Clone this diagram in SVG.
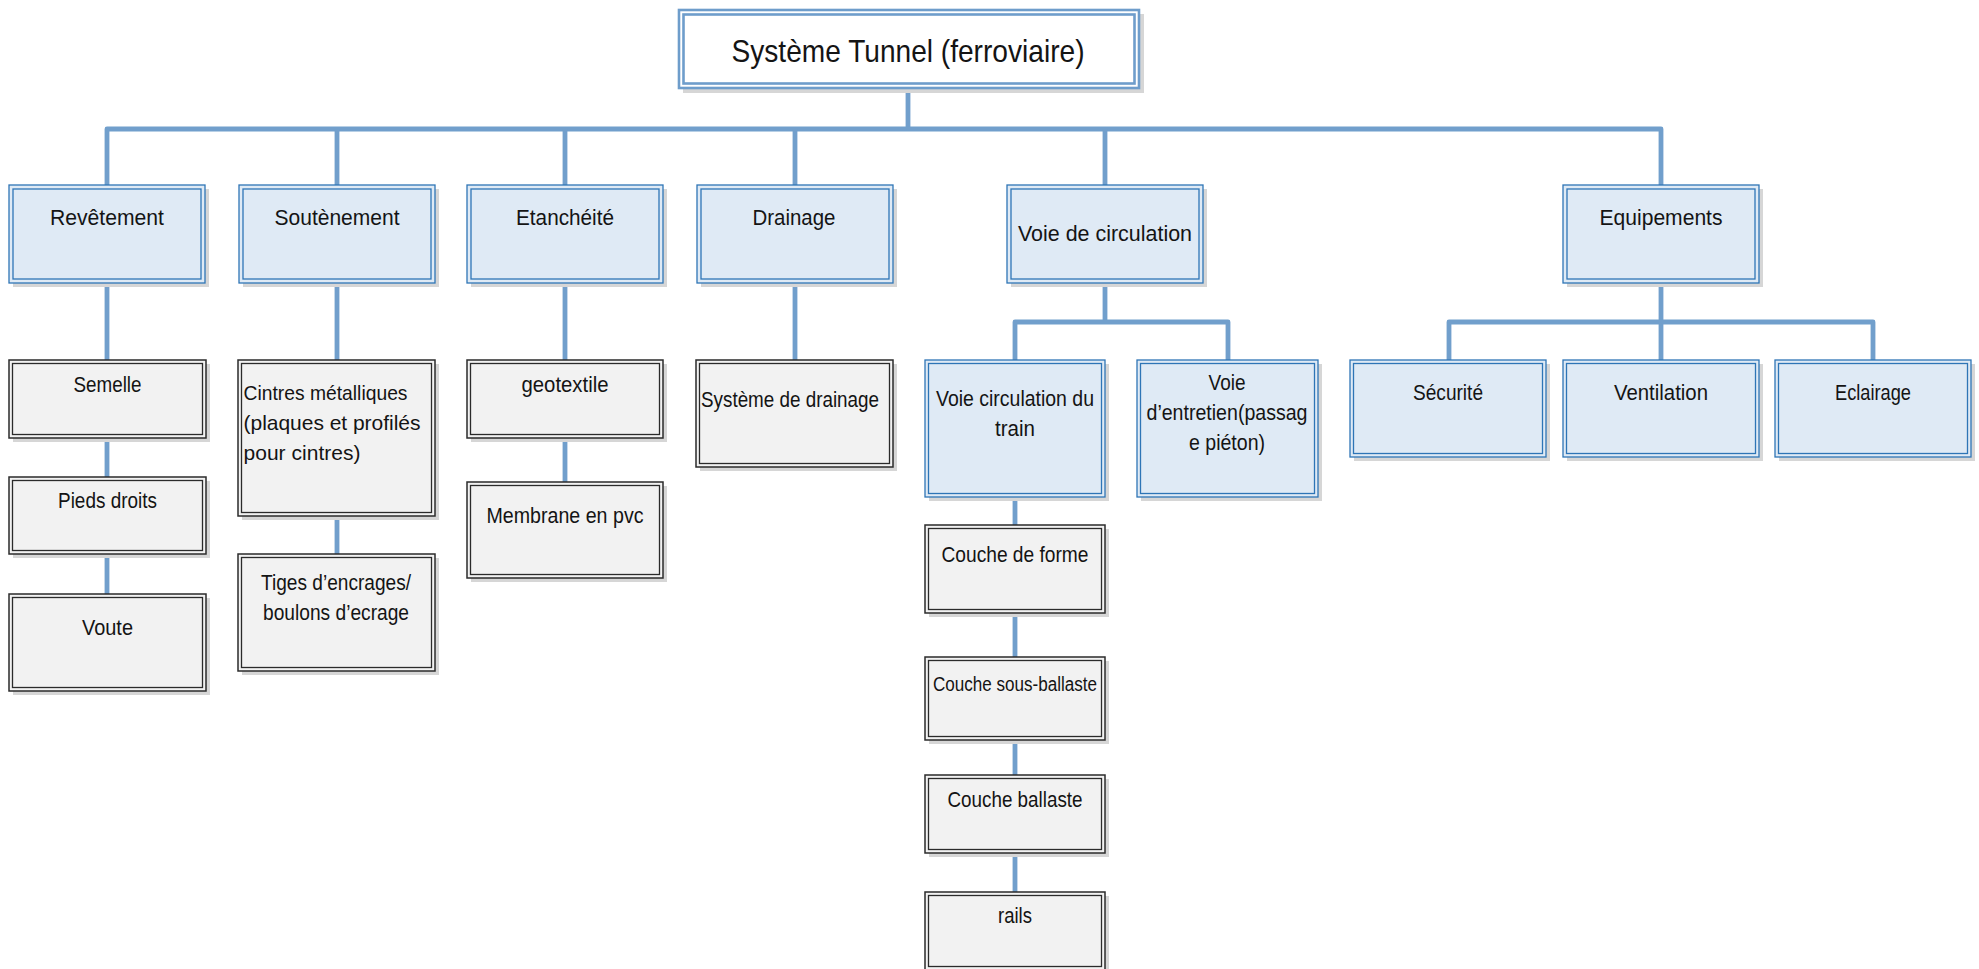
<svg xmlns="http://www.w3.org/2000/svg" width="1979" height="969" viewBox="0 0 1979 969">
<defs>
<style>
text{font-family:"Liberation Sans",Arial,sans-serif;fill:#141414;}
.t1{font-size:22px;text-anchor:middle;}
.t2{font-size:21.5px;text-anchor:middle;}
.tl{text-anchor:start;}
.sh{fill:#D6D6D6;}
.bo{fill:#DFEAF5;stroke:#2E75B6;stroke-width:1.3;}
.bi{fill:none;stroke:#2E75B6;stroke-width:1.3;}
.go{fill:#F2F2F2;stroke:#2B2B2B;stroke-width:1.5;}
.gi{fill:none;stroke:#2B2B2B;stroke-width:1.3;}
.ro{fill:#FFFFFF;stroke:#6E9DCB;stroke-width:2.6;}
.ri{fill:none;stroke:#6E9DCB;stroke-width:2.6;}
.cn{fill:none;stroke:#719FCC;stroke-width:4.8;stroke-linejoin:round;stroke-linecap:butt;}
</style>
</defs>
<rect width="1979" height="969" fill="#FFFFFF"/>

<g id="connectors">
<path class="cn" d="M908 89V129"/>
<path class="cn" d="M107 185V129H1661V185"/>
<path class="cn" d="M337 129V185M565 129V185M795 129V185M1105 129V185"/>
<path class="cn" d="M107 283V360M107 438V477M107 554V594"/>
<path class="cn" d="M337 283V360M337 516V554"/>
<path class="cn" d="M565 283V360M565 438V482"/>
<path class="cn" d="M795 283V360"/>
<path class="cn" d="M1105 283V322"/>
<path class="cn" d="M1015 360V322H1228V360"/>
<path class="cn" d="M1015 497V525M1015 613V657M1015 740V775M1015 853V892"/>
<path class="cn" d="M1661 283V322"/>
<path class="cn" d="M1449 360V322H1873V360M1661 322V360"/>
</g>

<g id="root">
<rect class="sh" x="683" y="14" width="461" height="79"/>
<rect class="ro" x="679" y="10" width="460" height="78"/>
<rect class="ri" x="683.5" y="14.5" width="451" height="69"/>
<text x="908" y="62" style="font-size:31.5px;text-anchor:middle" textLength="353" lengthAdjust="spacingAndGlyphs">Système Tunnel (ferroviaire)</text>
</g>

<g id="revetement">
<rect class="sh" x="13" y="189" width="196" height="98"/>
<rect class="bo" x="9" y="185" width="196" height="98"/>
<rect class="bi" x="13" y="189" width="188" height="90"/>
<text class="t1" x="107" y="225" textLength="114" lengthAdjust="spacingAndGlyphs">Revêtement</text>
</g>
<g id="soutenement">
<rect class="sh" x="243" y="189" width="196" height="98"/>
<rect class="bo" x="239" y="185" width="196" height="98"/>
<rect class="bi" x="243" y="189" width="188" height="90"/>
<text class="t1" x="337" y="225" textLength="125" lengthAdjust="spacingAndGlyphs">Soutènement</text>
</g>
<g id="etancheite">
<rect class="sh" x="471" y="189" width="196" height="98"/>
<rect class="bo" x="467" y="185" width="196" height="98"/>
<rect class="bi" x="471" y="189" width="188" height="90"/>
<text class="t1" x="565" y="225" textLength="98" lengthAdjust="spacingAndGlyphs">Etanchéité</text>
</g>
<g id="drainage">
<rect class="sh" x="701" y="189" width="196" height="98"/>
<rect class="bo" x="697" y="185" width="196" height="98"/>
<rect class="bi" x="701" y="189" width="188" height="90"/>
<text class="t1" x="794" y="225" textLength="83" lengthAdjust="spacingAndGlyphs">Drainage</text>
</g>
<g id="voie-circulation">
<rect class="sh" x="1011" y="189" width="196" height="98"/>
<rect class="bo" x="1007" y="185" width="196" height="98"/>
<rect class="bi" x="1011" y="189" width="188" height="90"/>
<text class="t1" x="1105" y="241" textLength="174" lengthAdjust="spacingAndGlyphs">Voie de circulation</text>
</g>
<g id="equipements">
<rect class="sh" x="1567" y="189" width="196" height="98"/>
<rect class="bo" x="1563" y="185" width="196" height="98"/>
<rect class="bi" x="1567" y="189" width="188" height="90"/>
<text class="t1" x="1661" y="225" textLength="123" lengthAdjust="spacingAndGlyphs">Equipements</text>
</g>

<g id="semelle">
<rect class="sh" x="13" y="364" width="197" height="78"/>
<rect class="go" x="9" y="360" width="197" height="78"/>
<rect class="gi" x="12.5" y="363.5" width="190" height="71"/>
<text class="t2" x="107.5" y="392" textLength="68" lengthAdjust="spacingAndGlyphs">Semelle</text>
</g>
<g id="pieds-droits">
<rect class="sh" x="13" y="481" width="197" height="77"/>
<rect class="go" x="9" y="477" width="197" height="77"/>
<rect class="gi" x="12.5" y="480.5" width="190" height="70"/>
<text class="t2" x="107.5" y="508" textLength="99" lengthAdjust="spacingAndGlyphs">Pieds droits</text>
</g>
<g id="voute">
<rect class="sh" x="13" y="598" width="197" height="97"/>
<rect class="go" x="9" y="594" width="197" height="97"/>
<rect class="gi" x="12.5" y="597.5" width="190" height="90"/>
<text class="t2" x="107.5" y="635" textLength="51" lengthAdjust="spacingAndGlyphs">Voute</text>
</g>
<g id="cintres">
<rect class="sh" x="242" y="364" width="197" height="156"/>
<rect class="go" x="238" y="360" width="197" height="156"/>
<rect class="gi" x="241.5" y="363.5" width="190" height="149"/>
<text x="243.5" y="400" style="font-size:21px" textLength="164" lengthAdjust="spacingAndGlyphs">Cintres métalliques</text>
<text x="243.5" y="430" style="font-size:21px" textLength="177">(plaques et profilés</text>
<text x="243.5" y="460" style="font-size:21px" textLength="117">pour cintres)</text>
</g>
<g id="tiges">
<rect class="sh" x="242" y="558" width="197" height="117"/>
<rect class="go" x="238" y="554" width="197" height="117"/>
<rect class="gi" x="241.5" y="557.5" width="190" height="110"/>
<text class="t2" x="336" y="590" textLength="150" lengthAdjust="spacingAndGlyphs">Tiges d’encrages/</text>
<text class="t2" x="336" y="620" textLength="146" lengthAdjust="spacingAndGlyphs">boulons d’ecrage</text>
</g>
<g id="geotextile">
<rect class="sh" x="471" y="364" width="196" height="78"/>
<rect class="go" x="467" y="360" width="196" height="78"/>
<rect class="gi" x="470.5" y="363.5" width="189" height="71"/>
<text class="t2" x="565" y="392" textLength="87" lengthAdjust="spacingAndGlyphs">geotextile</text>
</g>
<g id="membrane">
<rect class="sh" x="471" y="486" width="196" height="96"/>
<rect class="go" x="467" y="482" width="196" height="96"/>
<rect class="gi" x="470.5" y="485.5" width="189" height="89"/>
<text class="t2" x="565" y="523" textLength="157" lengthAdjust="spacingAndGlyphs">Membrane en pvc</text>
</g>
<g id="systeme-drainage">
<rect class="sh" x="700" y="364" width="197" height="107"/>
<rect class="go" x="696" y="360" width="197" height="107"/>
<rect class="gi" x="699.5" y="363.5" width="190" height="100"/>
<text x="701" y="407" style="font-size:21.5px" textLength="178" lengthAdjust="spacingAndGlyphs">Système de drainage</text>
</g>

<g id="voie-train">
<rect class="sh" x="929" y="364" width="180" height="137"/>
<rect class="bo" x="925" y="360" width="180" height="137"/>
<rect class="bi" x="928.5" y="363.5" width="173" height="130"/>
<text class="t2" x="1015" y="406" textLength="158" lengthAdjust="spacingAndGlyphs">Voie circulation du</text>
<text class="t2" x="1015" y="436" textLength="40" lengthAdjust="spacingAndGlyphs">train</text>
</g>
<g id="voie-entretien">
<rect class="sh" x="1141" y="364" width="181" height="137"/>
<rect class="bo" x="1137" y="360" width="181" height="137"/>
<rect class="bi" x="1140.5" y="363.5" width="174" height="130"/>
<text class="t2" x="1227" y="390" textLength="37" lengthAdjust="spacingAndGlyphs">Voie</text>
<text class="t2" x="1227" y="420" textLength="161" lengthAdjust="spacingAndGlyphs">d’entretien(passag</text>
<text class="t2" x="1227" y="450" textLength="76" lengthAdjust="spacingAndGlyphs">e piéton)</text>
</g>
<g id="couche-forme">
<rect class="sh" x="929" y="529" width="180" height="88"/>
<rect class="go" x="925" y="525" width="180" height="88"/>
<rect class="gi" x="928.5" y="528.5" width="173" height="81"/>
<text class="t2" x="1015" y="562" textLength="147" lengthAdjust="spacingAndGlyphs">Couche de forme</text>
</g>
<g id="couche-sous-ballaste">
<rect class="sh" x="929" y="661" width="180" height="83"/>
<rect class="go" x="925" y="657" width="180" height="83"/>
<rect class="gi" x="928.5" y="660.5" width="173" height="76"/>
<text x="1015" y="691" style="font-size:19.5px;text-anchor:middle" textLength="164" lengthAdjust="spacingAndGlyphs">Couche sous-ballaste</text>
</g>
<g id="couche-ballaste">
<rect class="sh" x="929" y="779" width="180" height="78"/>
<rect class="go" x="925" y="775" width="180" height="78"/>
<rect class="gi" x="928.5" y="778.5" width="173" height="71"/>
<text class="t2" x="1015" y="807" textLength="135" lengthAdjust="spacingAndGlyphs">Couche ballaste</text>
</g>
<g id="rails">
<rect class="sh" x="929" y="896" width="180" height="78"/>
<rect class="go" x="925" y="892" width="180" height="78"/>
<rect class="gi" x="928.5" y="895.5" width="173" height="71"/>
<text class="t2" x="1015" y="923" textLength="34" lengthAdjust="spacingAndGlyphs">rails</text>
</g>

<g id="securite">
<rect class="sh" x="1354" y="364" width="196" height="97"/>
<rect class="bo" x="1350" y="360" width="196" height="97"/>
<rect class="bi" x="1353.5" y="363.5" width="189" height="90"/>
<text class="t2" x="1448" y="400" textLength="70" lengthAdjust="spacingAndGlyphs">Sécurité</text>
</g>
<g id="ventilation">
<rect class="sh" x="1567" y="364" width="196" height="97"/>
<rect class="bo" x="1563" y="360" width="196" height="97"/>
<rect class="bi" x="1566.5" y="363.5" width="189" height="90"/>
<text class="t2" x="1661" y="400" textLength="94" lengthAdjust="spacingAndGlyphs">Ventilation</text>
</g>
<g id="eclairage">
<rect class="sh" x="1779" y="364" width="196" height="97"/>
<rect class="bo" x="1775" y="360" width="196" height="97"/>
<rect class="bi" x="1778.5" y="363.5" width="189" height="90"/>
<text class="t2" x="1873" y="400" textLength="76" lengthAdjust="spacingAndGlyphs">Eclairage</text>
</g>
</svg>
